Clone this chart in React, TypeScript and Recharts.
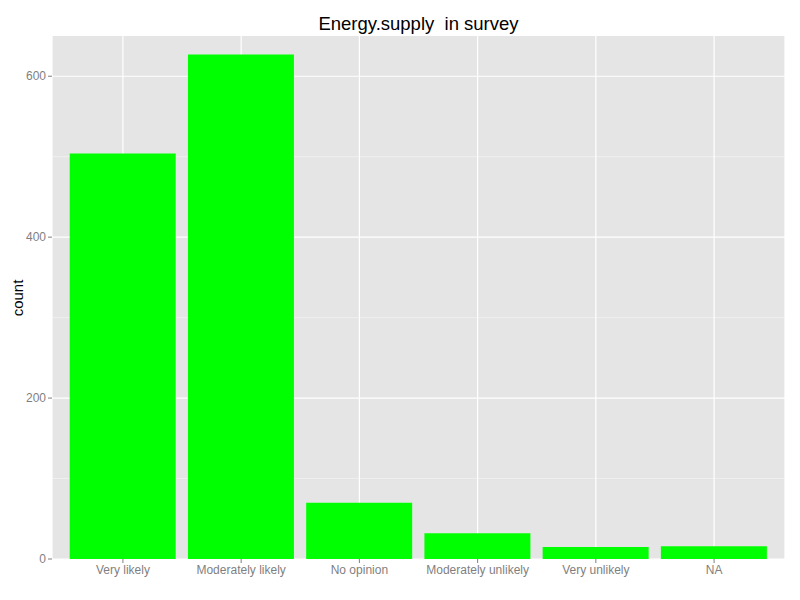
import { Bar, BarChart, CartesianGrid, XAxis, YAxis } from "recharts"

const categories = ["Very likely", "Moderately likely", "No opinion", "Moderately unlikely", "Very unlikely", "NA"]
const counts = [504, 627, 70, 32, 15, 16]
const yTicks = [0, 200, 400, 600]
const yMinor = [100, 300, 500]

const data = categories.map((c, i) => ({ response: c, count: counts[i] }))

const font = "'Liberation Sans', Arial, Helvetica, sans-serif"

export default function App() {
  return (
    <div style={{ position: "absolute", left: 0, top: 0, width: 800, height: 600, background: "#fff", fontFamily: font }}>
      <div style={{ position: "absolute", left: 52, width: 733, top: 14, textAlign: "center", fontSize: 18.5, color: "#000", whiteSpace: "pre", lineHeight: "20px" }}>
        {"Energy.supply  in survey"}
      </div>
      <div style={{ position: "absolute", left: 17, top: 298, transform: "translate(-50%, -50%) rotate(-90deg)", fontSize: 15, color: "#000" }}>
        count
      </div>
      <BarChart width={800} height={600} data={data} margin={{ top: 36, right: 15, bottom: 11, left: 0 }} barCategoryGap="5%">
        <CartesianGrid fill="#e5e5e5" stroke="#f2f2f2" strokeWidth={0.8} vertical={false} horizontalValues={yMinor} />
        <CartesianGrid stroke="#ffffff" strokeWidth={1.2} fill="none" horizontalValues={yTicks} />
        <XAxis
          dataKey="response"
          height={30}
          padding={{ left: 11.8, right: 11.8 }}
          axisLine={false}
          tickLine={{ stroke: "#7f7f7f" }}
          tickSize={4}
          tickMargin={2}
          interval={0}
          tick={{ fill: "#7f7f7f", fontSize: 12, fontFamily: font }}
        />
        <YAxis
          domain={[0, 650]}
          ticks={yTicks}
          width={52}
          axisLine={false}
          tickLine={{ stroke: "#7f7f7f" }}
          tickSize={4}
          tickMargin={2}
          tick={{ fill: "#7f7f7f", fontSize: 12, fontFamily: font }}
        />
        <Bar dataKey="count" fill="#00ff00" isAnimationActive={false} />
      </BarChart>
    </div>
  )
}
